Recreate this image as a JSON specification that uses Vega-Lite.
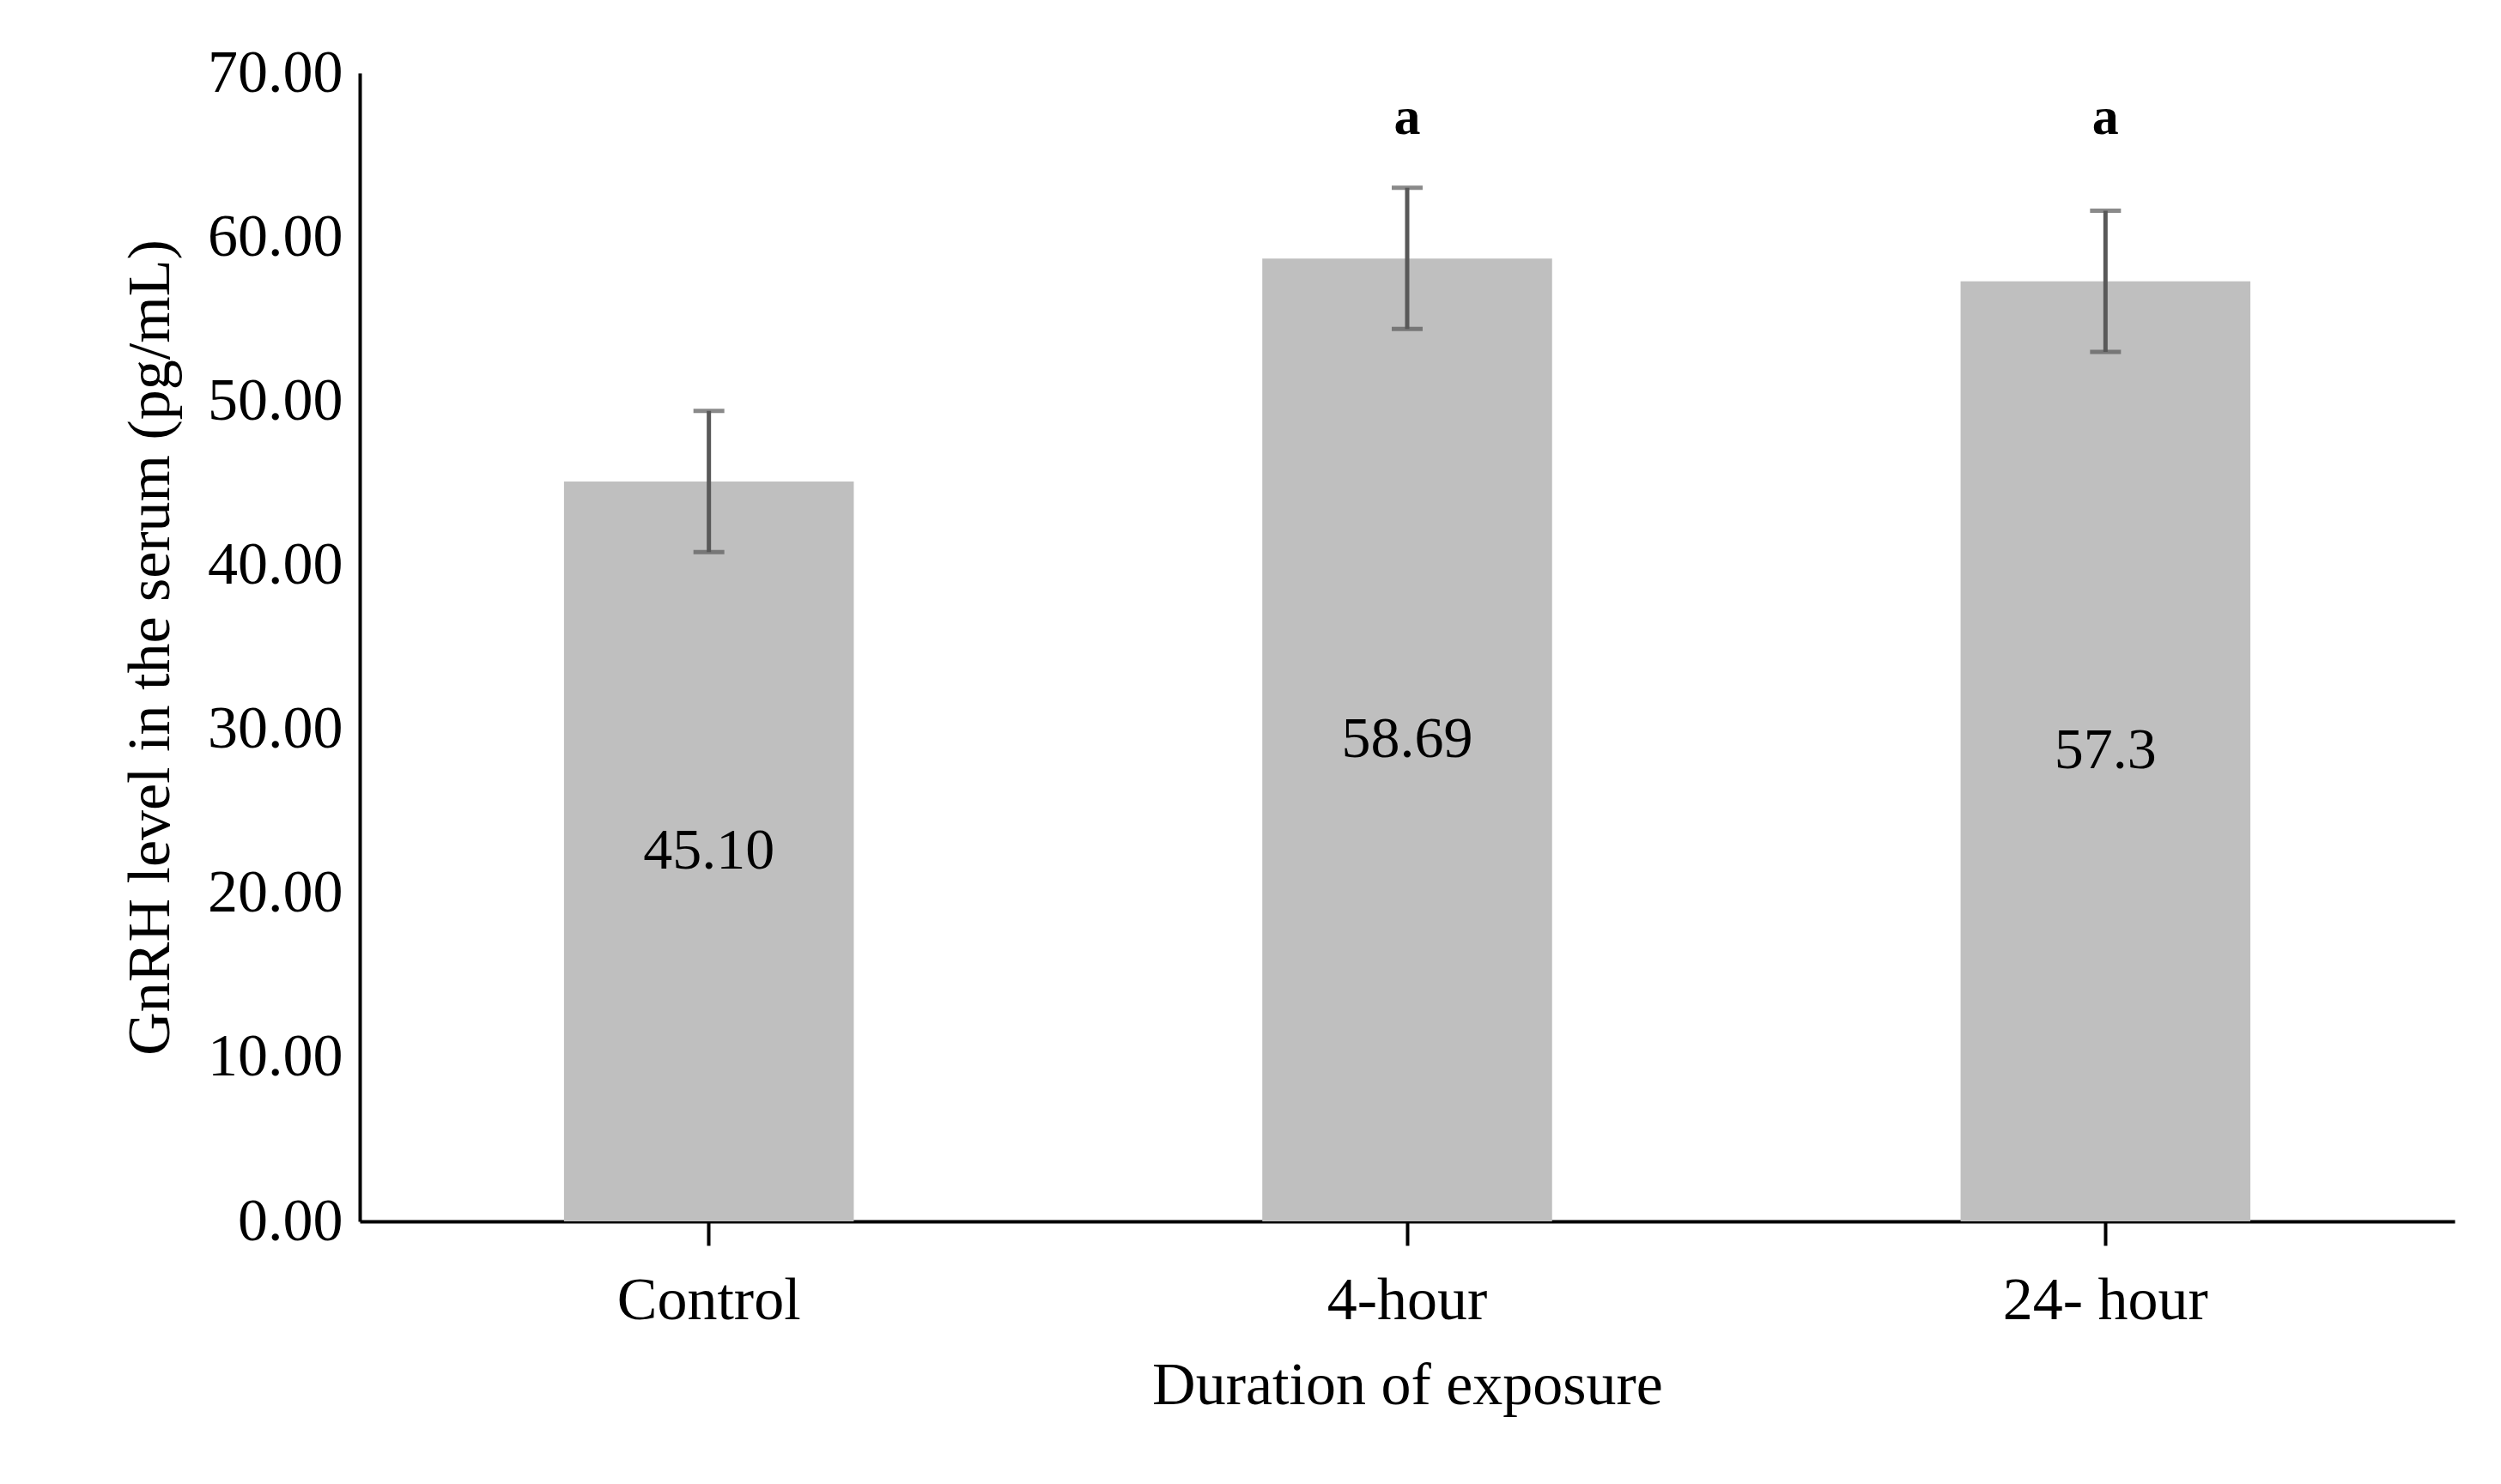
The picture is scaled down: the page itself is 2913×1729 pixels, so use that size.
{
  "$schema": "https://vega.github.io/schema/vega-lite/v6.json",
  "width": 2440,
  "height": 1338,
  "padding": {"left": 140, "top": 50, "right": 30, "bottom": 20},
  "background": "white",
  "config": {
    "font": "Liberation Serif",
    "view": {"stroke": null},
    "axis": {"labelFont": "Liberation Serif", "titleFont": "Liberation Serif", "labelColor": "black", "titleColor": "black", "titleFontWeight": "normal", "labelLimit": 0}
  },
  "data": {
    "values": [
      {"group": "Control", "value": 45.10, "lo": 40.8, "hi": 49.4, "label": "45.10", "sig": ""},
      {"group": "4-hour", "value": 58.69, "lo": 54.4, "hi": 63.0, "label": "58.69", "sig": "a"},
      {"group": "24- hour", "value": 57.3, "lo": 53.0, "hi": 61.6, "label": "57.3", "sig": "a"}
    ]
  },
  "encoding": {
    "x": {
      "field": "group", "type": "nominal", "sort": null,
      "scale": {"paddingInner": 0.585, "paddingOuter": 0.2925},
      "axis": {"title": "Duration of exposure", "labelAngle": 0, "labelFontSize": 70, "titleFontSize": 70,
        "labelPadding": 30, "titlePadding": 30, "domainColor": "black", "domainWidth": 4,
        "tickColor": "black", "tickWidth": 4, "tickSize": 28}
    }
  },
  "layer": [
    {
      "mark": {"type": "bar", "color": "#bfbfbf"},
      "encoding": {
        "y": {"field": "value", "type": "quantitative",
          "scale": {"domain": [0, 70]},
          "axis": {"title": "GnRH level in the serum (pg/mL)", "values": [0, 10, 20, 30, 40, 50, 60, 70],
            "format": ".2f", "grid": false, "labelFontSize": 70, "titleFontSize": 70, "ticks": false,
            "labelPadding": 20, "titlePadding": 30, "domainColor": "black", "domainWidth": 4}}
      }
    },
    {
      "mark": {"type": "rule", "color": "#595959", "strokeWidth": 5},
      "encoding": {"y": {"field": "lo", "type": "quantitative"}, "y2": {"field": "hi"}}
    },
    {
      "mark": {"type": "tick", "color": "#595959", "thickness": 5, "size": 36, "orient": "horizontal"},
      "encoding": {"y": {"field": "lo", "type": "quantitative"}}
    },
    {
      "mark": {"type": "tick", "color": "#595959", "thickness": 5, "size": 36, "orient": "horizontal"},
      "encoding": {"y": {"field": "hi", "type": "quantitative"}}
    },
    {
      "transform": [{"calculate": "datum.value / 2", "as": "mid"}],
      "mark": {"type": "text", "fontSize": 68, "color": "black"},
      "encoding": {"y": {"field": "mid", "type": "quantitative"}, "text": {"field": "label"}}
    },
    {
      "mark": {"type": "text", "fontSize": 62, "fontWeight": "bold", "color": "black"},
      "encoding": {"y": {"datum": 67.3}, "text": {"field": "sig"}}
    }
  ]
}
